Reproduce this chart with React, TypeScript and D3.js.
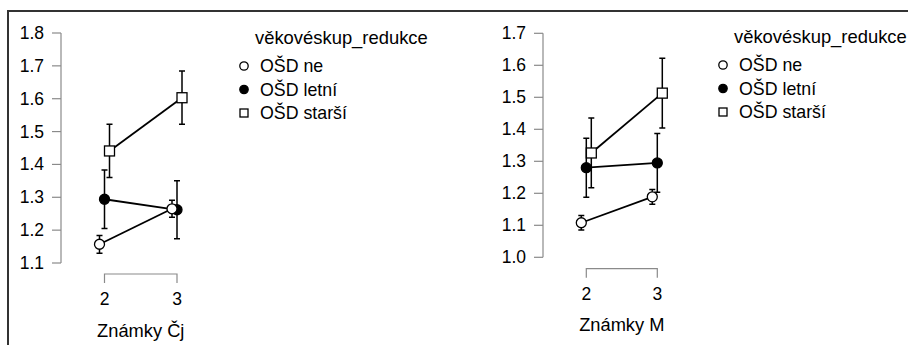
import React from 'react';
import * as d3 from 'd3';

// groups in the legend
const groups = ['OŠD ne', 'OŠD letní', 'OŠD starší'];
const grades = ['2', '3'];
const legendTitle = 'věkovéskup_redukce';

// Známky Čj
const cjMeans = [
  [1.157, 1.265],
  [1.294, 1.262],
  [1.441, 1.603],
];
const cjErrors = [
  [0.027, 0.026],
  [0.089, 0.088],
  [0.081, 0.081],
];
const cjTicks = [1.1, 1.2, 1.3, 1.4, 1.5, 1.6, 1.7, 1.8];

// Známky M
const mMeans = [
  [1.108, 1.189],
  [1.28, 1.295],
  [1.326, 1.513],
];
const mErrors = [
  [0.023, 0.023],
  [0.092, 0.092],
  [0.109, 0.109],
];
const mTicks = [1.0, 1.1, 1.2, 1.3, 1.4, 1.5, 1.6, 1.7];

const FONT = '"Liberation Sans", Arial, sans-serif';
const dodge = [-5, 0, 5];

type PanelProps = {
  title: string;
  means: number[][];
  errors: number[][];
  ticks: number[];
  axisX: number;
  yTop: number;
  yBottom: number;
  x2: number;
  x3: number;
  bracketY: number;
  legendX: number;
  legendY: number;
};

const Marker = ({ i, x, y, r }: { i: number; x: number; y: number; r: number }) => {
  if (i === 2) {
    return <rect x={x - r} y={y - r} width={r * 2} height={r * 2} fill="white" stroke="black" strokeWidth={1.3} />;
  }
  return <circle cx={x} cy={y} r={r} fill={i === 1 ? 'black' : 'white'} stroke="black" strokeWidth={1.3} />;
};

const Panel = (p: PanelProps) => {
  const y = d3
    .scaleLinear()
    .domain([p.ticks[0], p.ticks[p.ticks.length - 1]])
    .range([p.yBottom, p.yTop]);
  const x = d3.scalePoint<string>().domain(grades).range([p.x2, p.x3]);
  const line = d3
    .line<[number, number]>()
    .x((d) => d[0])
    .y((d) => d[1]);

  // draw order so the open circles sit on top
  const order = [2, 1, 0];

  return (
    <g fontFamily={FONT} fontSize={17.5} fill="black">
      {/* y axis */}
      <line x1={p.axisX} x2={p.axisX} y1={y(p.ticks[0])} y2={y(p.ticks[p.ticks.length - 1])} stroke="#8a8a8a" strokeWidth={1.2} />
      {p.ticks.map((t) => (
        <g key={t}>
          <line x1={p.axisX - 9} x2={p.axisX} y1={y(t)} y2={y(t)} stroke="#8a8a8a" strokeWidth={1.2} />
          <text x={p.axisX - 17} y={y(t)} textAnchor="end" dominantBaseline="central">
            {t.toFixed(1)}
          </text>
        </g>
      ))}

      {/* x axis bracket */}
      <path
        d={`M${x('2')},${p.bracketY + 9}V${p.bracketY}H${x('3')}V${p.bracketY + 9}`}
        fill="none"
        stroke="#8a8a8a"
        strokeWidth={1.2}
      />
      {grades.map((g) => (
        <text key={g} x={x(g)} y={p.bracketY + 25} textAnchor="middle" dominantBaseline="central">
          {g}
        </text>
      ))}
      <text
        x={((x('2') as number) + (x('3') as number)) / 2}
        y={p.bracketY + 56}
        textAnchor="middle"
        dominantBaseline="central"
        fontSize={18.3}
      >
        {p.title}
      </text>

      {/* series */}
      {order.map((i) => {
        const pts: [number, number][] = grades.map((g, j) => [(x(g) as number) + dodge[i], y(p.means[i][j])]);
        return (
          <g key={i}>
            {grades.map((g, j) => {
              const cx = (x(g) as number) + dodge[i];
              const lo = y(p.means[i][j] - p.errors[i][j]);
              const hi = y(p.means[i][j] + p.errors[i][j]);
              return (
                <path
                  key={g}
                  d={`M${cx - 3},${hi}H${cx + 3}M${cx},${hi}V${lo}M${cx - 3},${lo}H${cx + 3}`}
                  stroke="black"
                  strokeWidth={1.5}
                  fill="none"
                />
              );
            })}
            <path d={line(pts) as string} stroke="black" strokeWidth={1.8} fill="none" />
            {pts.map((pt, j) => (
              <Marker key={j} i={i} x={pt[0]} y={pt[1]} r={5} />
            ))}
          </g>
        );
      })}

      {/* legend */}
      <text x={p.legendX + 11} y={p.legendY} dominantBaseline="central" fontSize={18.4}>
        {legendTitle}
      </text>
      {groups.map((g, i) => (
        <g key={g}>
          <Marker i={i} x={p.legendX} y={p.legendY + 29 + i * 23.5} r={i === 2 ? 4 : 4.2} />
          <text x={p.legendX + 16} y={p.legendY + 29 + i * 23.5} dominantBaseline="central" fontSize={17.8}>
            {g}
          </text>
        </g>
      ))}
    </g>
  );
};

export default function App() {
  return (
    <svg width={908} height={345} style={{ position: 'absolute', left: 0, top: 0, background: 'white' }}>
      <rect x={0} y={0} width={908} height={345} fill="white" />
      <rect x={8} y={11} width={940} height={400} fill="none" stroke="#333" strokeWidth={2} />
      <Panel
        title="Známky Čj"
        means={cjMeans}
        errors={cjErrors}
        ticks={cjTicks}
        axisX={61}
        yTop={33}
        yBottom={263}
        x2={104.5}
        x3={177}
        bracketY={274}
        legendX={244}
        legendY={37}
      />
      <Panel
        title="Známky M"
        means={mMeans}
        errors={mErrors}
        ticks={mTicks}
        axisX={543}
        yTop={33.3}
        yBottom={257.3}
        x2={586.3}
        x3={657.3}
        bracketY={268.7}
        legendX={723}
        legendY={36}
      />
    </svg>
  );
}
